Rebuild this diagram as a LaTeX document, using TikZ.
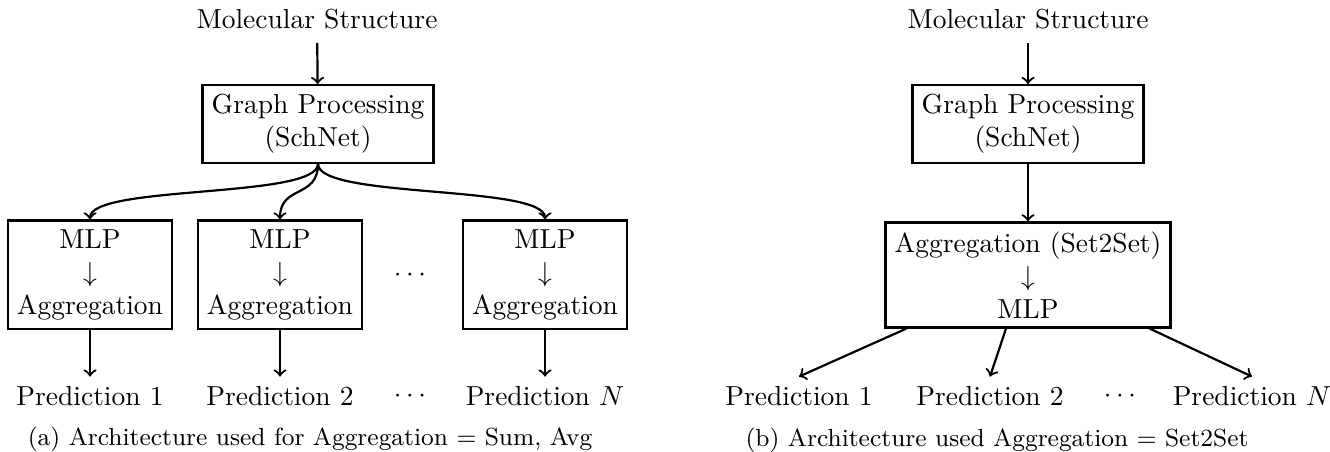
\documentclass[tikz,border=0pt]{standalone}

\begin{document}
\begin{tikzpicture}[x=0.3636pt, y=-0.3636pt, box/.style={draw, thick, align=center}, line/.style={->, thick}, caption/.style={font=\small}]
\useasboundingbox (0, 0) rectangle (1330, 452);

% (a) one MLP + aggregation head per prediction
\node (molA) at (317, 19) {Molecular Structure};
\node[box] (graphA) at (318, 124) {Graph Processing\\(SchNet)};
\node[box] (headA1) at (90, 275) {MLP\\$\downarrow$\\Aggregation};
\node[box] (headA2) at (280, 275) {MLP\\$\downarrow$\\Aggregation};
\node (dotsA) at (410, 275) {$\cdots$};
\node[box] (headAN) at (545, 275) {MLP\\$\downarrow$\\Aggregation};
\node (predA1) at (90, 396) {Prediction 1};
\node (predA2) at (280, 396) {Prediction 2};
\node (pdotsA) at (410, 396) {$\cdots$};
\node (predAN) at (545, 396) {Prediction $N$};
\node[caption] (capA) at (310, 439) {(a) Architecture used for Aggregation $=$ Sum, Avg};

\draw[line, shorten <=1.5pt] (molA) -- (graphA);
\draw[line] (graphA.south) .. controls +(0, 35) and +(0, -35) .. (headA1.north);
\draw[line] (graphA.south) .. controls +(0, 35) and +(0, -35) .. (headA2.north);
\draw[line] (graphA.south) .. controls +(0, 35) and +(0, -35) .. (headAN.north);
\draw[line] (headA1) -- (predA1);
\draw[line] (headA2) -- (predA2);
\draw[line] (headAN) -- (predAN);

% (b) shared Set2Set aggregation
\node (molB) at (1028, 19) {Molecular Structure};
\node[box] (graphB) at (1028, 124) {Graph Processing\\(SchNet)};
\node[box] (aggB) at (1028, 275) {Aggregation (Set2Set)\\$\downarrow$\\MLP};
\node (predB1) at (799, 396) {Prediction 1};
\node (predB2) at (990, 396) {Prediction 2};
\node (pdotsB) at (1120, 396) {$\cdots$};
\node (predBN) at (1252, 396) {Prediction $N$};
\node[caption] (capB) at (997, 440) {(b) Architecture used Aggregation $=$ Set2Set};

\draw[line, shorten <=1.5pt] (molB) -- (graphB);
\draw[line] (graphB) -- (aggB);
\draw[line] ([xshift=8pt]aggB.south west) -- (predB1.north);
\draw[line] ([xshift=-8pt]aggB.south) -- (predB2.north);
\draw[line] ([xshift=-8pt]aggB.south east) -- (predBN.north);
\end{tikzpicture}
\end{document}
